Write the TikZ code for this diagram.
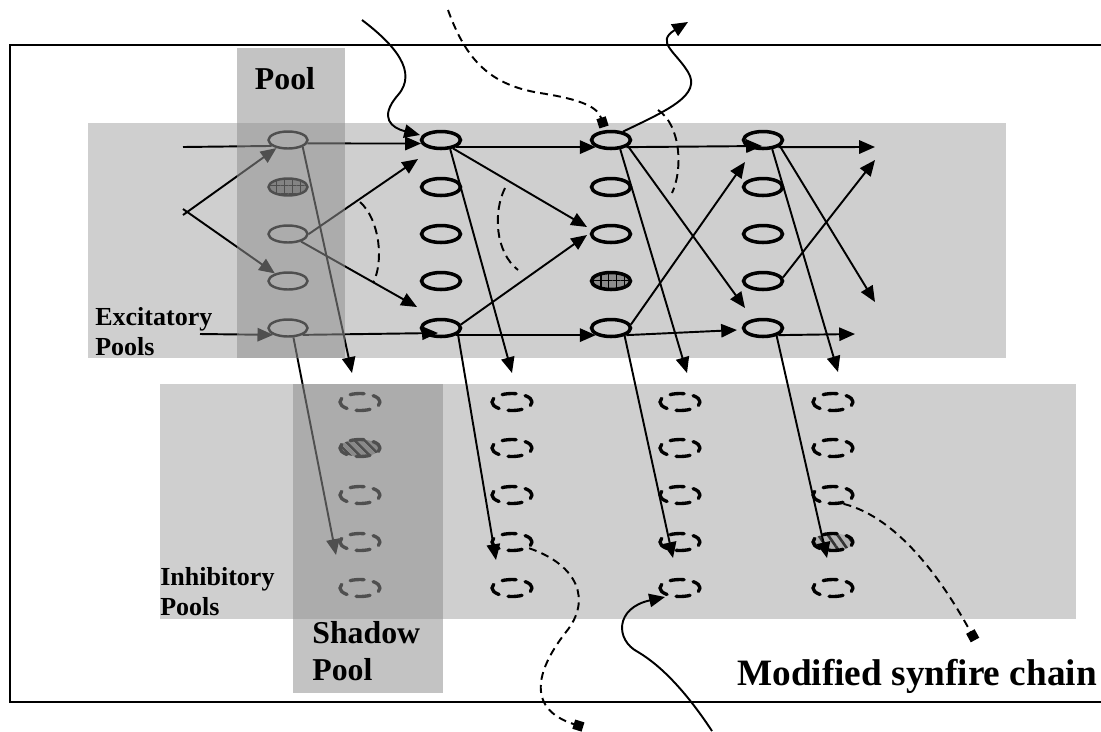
\documentclass[tikz,border=0pt]{standalone}
\usepackage{fontspec}
\setmainfont{Liberation Serif}
\usetikzlibrary{shapes.geometric,arrows.meta,calc,patterns.meta}
\begin{document}
\begin{tikzpicture}[x=0.02cm,y=-0.02cm,
  band/.style={fill=black!19, draw=none},
  shade/.style={fill=black!43, fill opacity=0.55, draw=none},
  exc/.style={ellipse, draw, line width=2pt, minimum width=0.78cm, minimum height=0.34cm, inner sep=0pt},
  exczero/.style={exc, line width=1.4pt},
  inh/.style={ellipse, draw, line width=1.9pt, line cap=round, dash pattern=on 8pt off 5.26pt, dash phase=2.4pt, minimum width=0.80cm, minimum height=0.34cm, inner sep=0pt},
  conn/.style={line width=1.1pt, -{Triangle[length=9pt,width=7.6pt]}},
  plainline/.style={line width=1.1pt},
  dconn/.style={line width=1.1pt, dash pattern=on 4.5pt off 3pt, -{Square[length=5.5pt,width=5.5pt]}},
  darc/.style={line width=1.1pt, dash pattern=on 5pt off 3pt},
  labsmall/.style={inner sep=0pt, anchor=base west, font=\fontsize{14.8pt}{17pt}\selectfont\bfseries},
  labmid/.style={inner sep=0pt, font=\fontsize{18.1pt}{21pt}\selectfont\bfseries},
  labbig/.style={inner sep=0pt, anchor=base west, font=\fontsize{21.2pt}{24pt}\selectfont\bfseries}
]
\useasboundingbox (0,0) rectangle (1101,731);
% bands
\fill[band] (88,123) rectangle (1006,358);
\fill[band] (160,384) rectangle (1076,619);
% frame
\draw[line width=1.1pt] (1101,45) -- (10,45) -- (10,702) -- (1101,702);

% excitatory pools
\node[exczero] (e01) at (288,140) {};
\node[exczero, preaction={fill=black!55}, pattern={Hatch[angle=0,distance=4.5pt,line width=0.7pt]}, pattern color=black] (e02) at (288,187) {};
\node[exczero] (e03) at (288,234) {};
\node[exczero] (e04) at (288,281) {};
\node[exczero] (e05) at (288,328) {};
\node[exc] (e11) at (441,140) {};
\node[exc] (e12) at (441,187) {};
\node[exc] (e13) at (441,234) {};
\node[exc] (e14) at (441,281) {};
\node[exc] (e15) at (441,328) {};
\node[exc] (e21) at (611,140) {};
\node[exc] (e22) at (611,187) {};
\node[exc] (e23) at (611,234) {};
\node[exc, preaction={fill=black!45}, pattern={Hatch[angle=0,distance=4.5pt,line width=0.8pt]}, pattern color=black] (e24) at (611,281) {};
\node[exc] (e25) at (611,328) {};
\node[exc] (e31) at (763,140) {};
\node[exc] (e32) at (763,187) {};
\node[exc] (e33) at (763,234) {};
\node[exc] (e34) at (763,281) {};
\node[exc] (e35) at (763,328) {};

% inhibitory pools
\node[inh] (s1) at (360,402) {};
\node[inh, preaction={fill=black!50}, pattern={Lines[angle=-45,distance=4pt,line width=1.4pt]}, pattern color=black] (s2) at (360,448) {};
\node[inh] (s3) at (360,495) {};
\node[inh] (s4) at (360,542) {};
\node[inh] (s5) at (360,588) {};
\node[inh] (i11) at (512,402) {};
\node[inh] (i12) at (512,448) {};
\node[inh] (i13) at (512,495) {};
\node[inh] (i14) at (512,542) {};
\node[inh] (i15) at (512,588) {};
\node[inh] (i21) at (680,402) {};
\node[inh] (i22) at (680,448) {};
\node[inh] (i23) at (680,495) {};
\node[inh] (i24) at (680,542) {};
\node[inh] (i25) at (680,588) {};
\node[inh] (i31) at (833,402) {};
\node[inh] (i32) at (833,448) {};
\node[inh] (i33) at (833,495) {};
\node[inh, preaction={fill=black!30}, pattern={Lines[angle=-55,distance=4.5pt,line width=1.5pt]}, pattern color=black!80] (i34) at (833,542) {};
\node[inh] (i35) at (833,588) {};

% free ends
\coordinate (in1) at (183,147);
\coordinate (in5) at (200,334);
\coordinate (sa) at (183,215);
\coordinate (sb) at (183,209);
\coordinate (out1) at (875,147);
\coordinate (out2) at (875,160);
\coordinate (out4) at (875,302);
\coordinate (out5) at (855,334);
\coordinate (inA) at (362,20);
\coordinate (inB) at (448,10);
\coordinate (outT) at (688,22);
\coordinate (b1) at (583,727);
\coordinate (b2) at (712,731);
\coordinate (b3) at (975,640);

% row 1 chain
\draw[plainline] (in1) -- (e01.200);
\draw[conn] (e01.-10) -- (e11.190);
\draw[conn] (e11.-25) -- (e21.205);
\draw[conn] (e21.-25) -- ($(e31)+(-1,6)$);
\draw[conn] (e31.-25) -- (out1);
% row 5 chain
\draw[conn] (in5) -- (e05.205);
\draw[conn] (e05.-25) -- ($(e15)+(-3,5)$);
\draw[conn] (e15.-25) -- (e25.205);
\draw[conn] (e25.-25) -- ($(e35)+(-26,2)$);
\draw[conn] (e35.-25) -- (out5);
% split input
\draw[conn] (sa) -- (e01.215);
\draw[conn] (sb) -- (e04.150);
% pool column
\draw[conn] (e03.east) -- ($(e11)+(-23,19)$);
\draw[conn] (e03.-30) -- ($(e15)+(-24,-21)$);
\draw[conn] (e01.-25) -- ($(s1)+(-8,-29)$);
\draw[conn] (e05.-60) -- ($(s4)+(-24,13)$);
% column 1
\draw[conn] (e11.-35) -- ($(e23)+(-24,-7)$);
\draw[conn] (e11.-45) -- ($(i11)+(0,-29)$);
\draw[conn] (e15.10) -- ($(e23)+(-24,1)$);
\draw[conn] (e15.-20) -- ($(i14)+(-16,18)$);
% column 2
\draw[conn] (e21.-20) -- ($(e35)+(-18,-20)$);
\draw[conn] (e21.-45) -- ($(i21)+(7,-29)$);
\draw[conn] (e25.10) -- ($(e31)+(-18,22)$);
\draw[conn] (e25.-30) -- ($(i24)+(-7,16)$);
% column 3
\draw[conn] (e31.-20) -- (out4);
\draw[conn] (e31.-45) -- ($(i31)+(5,-30)$);
\draw[conn] (e34.10) -- (out2);
\draw[conn] (e35.-30) -- ($(i34)+(-6,16)$);

% curved inputs / outputs
\draw[conn] (inA) .. controls (395,45) and (418,72) .. (398,95) .. controls (378,118) and (392,128) .. ($(e11)+(-21,-5)$);
\draw[dconn] (inB) .. controls (466,60) and (490,85) .. (540,93) .. controls (585,100) and (598,108) .. ($(e21)+(-7,-13)$);
\draw[conn] (e21.35) .. controls (668,110) and (702,95) .. (688,72) .. controls (676,52) and (655,42) .. (outT);
\draw[dconn] (i14.-20) .. controls (578,565) and (592,600) .. (566,632) .. controls (540,665) and (522,708) .. (b1);
\draw[conn] (b2) .. controls (685,690) and (660,665) .. (638,652) .. controls (615,640) and (615,608) .. ($(i25)+(-15,9)$);
\draw[dconn] (i33.-40) .. controls (900,518) and (945,585) .. (b3);

% dashed arcs
\draw[darc] (360,202) .. controls (380,220) and (384,262) .. (373,283);
\draw[darc] (505,188) .. controls (493,212) and (495,252) .. (518,270);
\draw[darc] (658,110) .. controls (681,125) and (683,170) .. (672,193);

% pool columns (overlay)
\fill[shade] (237,48) rectangle (345,358);
\fill[shade] (293,384) rectangle (443,693);

% labels
\node[labmid, anchor=base] (tPool) at (285,89) {Pool};
\node[labsmall] (tExc1) at (95,325) {Excitatory};
\node[labsmall] (tExc2) at (95,355) {Pools};
\node[labsmall] (tInh1) at (160,585) {Inhibitory};
\node[labsmall] (tInh2) at (160,615) {Pools};
\node[labmid, anchor=base west] (tSh1) at (312,643) {Shadow};
\node[labmid, anchor=base west] (tSh2) at (312,680) {Pool};
\node[labbig] (tMod) at (737,685) {Modified synfire chain};
\end{tikzpicture}
\end{document}
